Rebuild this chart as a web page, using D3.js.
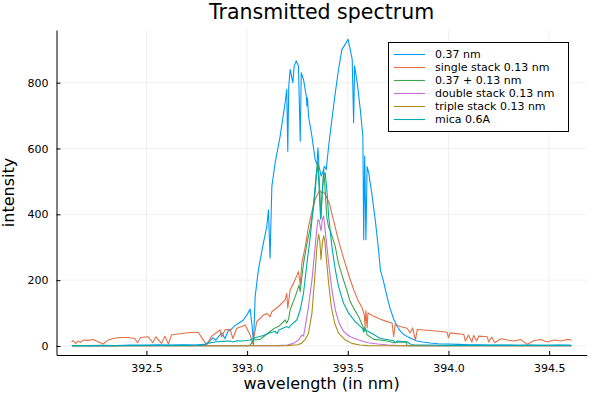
<!DOCTYPE html>
<html><head><meta charset="utf-8">
<script src="https://cdn.jsdelivr.net/npm/d3@7"></script>
<style>body{margin:0;background:#fff} svg{display:block;font-family:"DejaVu Sans",sans-serif}</style>
</head><body><svg id="c" width="596" height="399"></svg>
<script>
const seriesNames = ["0.37 nm", "single stack 0.13 nm", "0.37 + 0.13 nm", "double stack 0.13 nm", "triple stack 0.13 nm", "mica 0.6A"];
const seriesColors = ["#009AFA", "#E36F47", "#3EA44E", "#C371D2", "#AC8E18", "#00A9AD"];
const xTicks = [392.5, 393.0, 393.5, 394.0, 394.5];
const yTicks = [0, 200, 400, 600, 800];

// [wavelength (nm), intensity]
const filter037 = [[392.13,1],[392.2,1],[392.28,2],[392.35,1],[392.42,3],[392.5,3],[392.56,4],[392.62,3],[392.68,4],[392.74,3],[392.79,5],[392.81,12],[392.83,25],[392.845,18],[392.86,30],[392.875,40],[392.89,22],[392.905,45],[392.92,50],[392.94,62],[392.96,70],[392.98,78],[393.0,95],[393.015,112],[393.025,60],[393.032,5],[393.04,150],[393.056,231],[393.081,313],[393.098,363],[393.106,414],[393.114,267],[393.123,485],[393.139,556],[393.164,637],[393.189,739],[393.197,780],[393.202,592],[393.207,790],[393.214,840],[393.227,800],[393.234,851],[393.244,866],[393.255,851],[393.264,622],[393.269,830],[393.28,810],[393.294,759],[393.297,729],[393.3,754],[393.305,698],[393.322,637],[393.338,566],[393.347,551],[393.352,602],[393.357,546],[393.368,516],[393.38,536],[393.383,546],[393.393,536],[393.405,607],[393.421,688],[393.438,769],[393.454,840],[393.471,901],[393.488,917],[393.501,932],[393.512,901],[393.522,871],[393.529,678],[393.534,851],[393.549,790],[393.562,719],[393.575,637],[393.579,323],[393.584,577],[393.59,323],[393.596,545],[393.604,526],[393.62,460],[393.637,380],[393.653,290],[393.662,231],[393.678,195],[393.695,150],[393.711,112],[393.728,82],[393.745,60],[393.761,45],[393.78,34],[393.8,27],[393.82,21],[393.84,16],[393.87,12],[393.91,9],[393.95,7],[394.0,6],[394.05,5],[394.1,4],[394.15,4],[394.2,3],[394.25,3],[394.3,3],[394.35,2],[394.4,3],[394.45,2],[394.5,2],[394.55,3],[394.61,2]];

const single013 = [[392.128,13],[392.136,16],[392.149,8],[392.161,15],[392.172,11],[392.186,18],[392.211,17],[392.236,20],[392.26,13],[392.285,6],[392.31,18],[392.335,23],[392.368,26],[392.41,26],[392.443,23],[392.456,10],[392.471,26],[392.509,28],[392.531,10],[392.547,28],[392.575,8],[392.592,30],[392.609,6],[392.625,34],[392.667,37],[392.716,41],[392.758,41],[392.783,18],[392.799,3],[392.824,30],[392.849,41],[392.866,49],[392.874,28],[392.89,49],[392.915,51],[392.929,23],[392.949,54],[392.974,59],[392.99,64],[393.015,34],[393.028,6],[393.048,74],[393.056,79],[393.081,94],[393.098,99],[393.114,89],[393.123,104],[393.156,120],[393.189,140],[393.197,160],[393.202,115],[393.214,171],[393.231,191],[393.255,226],[393.264,186],[393.272,252],[393.289,302],[393.305,363],[393.322,409],[393.338,445],[393.35,462],[393.36,472],[393.37,465],[393.38,468],[393.39,458],[393.4,445],[393.41,430],[393.42,405],[393.43,380],[393.45,330],[393.47,285],[393.49,245],[393.51,205],[393.53,170],[393.55,140],[393.57,118],[393.582,95],[393.586,60],[393.59,108],[393.596,55],[393.6,100],[393.63,90],[393.662,81],[393.695,74],[393.72,70],[393.728,28],[393.735,65],[393.761,59],[393.794,54],[393.81,40],[393.822,55],[393.836,18],[393.845,50],[393.91,47],[393.96,44],[393.993,42],[394.0,25],[394.008,40],[394.076,35],[394.084,15],[394.1,33],[394.116,12],[394.125,32],[394.14,15],[394.15,30],[394.193,28],[394.2,12],[394.215,27],[394.23,10],[394.26,22],[394.292,18],[394.325,15],[394.358,20],[394.391,5],[394.424,16],[394.458,20],[394.49,12],[394.524,18],[394.557,15],[394.59,20],[394.612,18]];

const combo = [[392.13,0.6],[392.5,0.6],[392.9,0.6],[393.0,1],[393.015,3],[393.032,18],[393.065,20],[393.081,28],[393.114,44],[393.139,55],[393.156,59],[393.189,79],[393.197,70],[393.206,82],[393.214,110],[393.239,150],[393.258,185],[393.264,165],[393.27,200],[393.28,250],[393.297,310],[393.314,360],[393.33,420],[393.34,480],[393.347,546],[393.352,560],[393.358,510],[393.367,390],[393.373,470],[393.381,535],[393.388,470],[393.396,390],[393.405,360],[393.413,350],[393.438,302],[393.454,250],[393.479,200],[393.496,168],[393.512,135],[393.529,115],[393.554,89],[393.575,60],[393.579,45],[393.585,58],[393.596,34],[393.629,20],[393.662,18],[393.695,15],[393.711,13],[393.728,10],[393.76,12],[393.79,11],[393.795,0.6],[394.0,0.6],[394.61,0.6]];

const double013 = [[392.13,0.6],[393.0,0.6],[393.15,1],[393.2,3],[393.23,8],[393.255,18],[393.272,33],[393.28,30],[393.289,59],[393.305,120],[393.322,201],[393.338,302],[393.347,360],[393.352,384],[393.358,380],[393.367,350],[393.374,385],[393.38,394],[393.391,333],[393.405,252],[393.421,171],[393.438,110],[393.454,74],[393.479,44],[393.512,28],[393.554,18],[393.6,10],[393.65,6],[393.7,3],[393.75,1],[393.8,0.6],[394.61,0.6]];

const triple013 = [[392.13,0.6],[393.1,0.6],[393.2,1],[393.25,4],[393.27,8],[393.289,20],[393.305,39],[393.322,100],[393.335,201],[393.347,302],[393.355,340],[393.361,320],[393.367,262],[393.373,310],[393.38,335],[393.386,320],[393.391,282],[393.405,191],[393.418,120],[393.435,69],[393.454,39],[393.488,18],[393.52,8],[393.56,3],[393.6,1],[393.65,0.6],[394.61,0.6]];

const mica06 = [[392.13,1],[392.3,1],[392.5,1.5],[392.7,2],[392.79,3],[392.8,8],[392.849,13],[392.88,14],[392.915,15],[392.93,12],[392.95,16],[392.98,15],[393.015,18],[393.04,25],[393.081,32],[393.114,40],[393.139,44],[393.15,38],[393.156,48],[393.197,59],[393.206,55],[393.22,65],[393.247,79],[393.264,110],[393.28,160],[393.297,250],[393.314,333],[393.33,434],[393.343,520],[393.35,548],[393.356,500],[393.365,385],[393.372,450],[393.38,520],[393.388,526],[393.396,475],[393.405,394],[393.421,302],[393.438,231],[393.454,181],[393.479,130],[393.504,100],[393.537,74],[393.575,52],[393.579,42],[393.585,50],[393.62,38],[393.662,23],[393.7,19],[393.728,16],[393.735,10],[393.745,15],[393.794,13],[393.81,6],[393.827,4],[393.9,3],[394.0,2],[394.2,2],[394.4,2],[394.61,2]];

const seriesData = [filter037, single013, combo, double013, triple013, mica06];

const svg = d3.select("#c");
const m = {l: 56.5, r: 586.7, t: 30, b: 355};
const all = [].concat(...seriesData);
const widen = e => { const r = e[1] - e[0]; return [e[0] - 0.03 * r, e[1] + 0.03 * r]; };
const x = d3.scaleLinear().domain(widen(d3.extent(all, d => d[0]))).range([m.l, m.r]);
const y = d3.scaleLinear().domain(widen(d3.extent(all, d => d[1]))).range([m.b, m.t]);

// grid
const g = svg.append("g");
g.selectAll("line.gx").data(xTicks).join("line")
  .attr("x1", d => x(d)).attr("x2", d => x(d)).attr("y1", m.t).attr("y2", m.b)
  .attr("stroke", "#000").attr("stroke-opacity", 0.1).attr("stroke-width", 0.6);
g.selectAll("line.gy").data(yTicks).join("line")
  .attr("x1", m.l).attr("x2", m.r).attr("y1", d => y(d)).attr("y2", d => y(d))
  .attr("stroke", "#000").attr("stroke-opacity", 0.1).attr("stroke-width", 0.6);

// lines
svg.append("clipPath").attr("id", "clip").append("rect")
  .attr("x", m.l).attr("y", m.t).attr("width", m.r - m.l).attr("height", m.b - m.t);
const line = d3.line().x(d => x(d[0])).y(d => y(d[1]));
const lg = svg.append("g").attr("clip-path", "url(#clip)");
seriesData.forEach((s, i) => {
  lg.append("path").attr("d", line(s)).attr("fill", "none")
    .attr("stroke", seriesColors[i]).attr("stroke-width", 1.1).attr("stroke-linejoin", "round");
});

// axes
const xa = svg.append("g").attr("transform", `translate(0,${m.b})`)
  .call(d3.axisBottom(x).tickValues(xTicks).tickFormat(d3.format(".1f")).tickSizeInner(-4).tickSizeOuter(0).tickPadding(9));
const ya = svg.append("g").attr("transform", `translate(${m.l},0)`)
  .call(d3.axisLeft(y).tickValues(yTicks).tickFormat(d3.format("d")).tickSizeInner(-4).tickSizeOuter(0).tickPadding(8));
[xa, ya].forEach(a => {
  a.selectAll("text").attr("font-size", 11).attr("font-family", "DejaVu Sans").attr("fill", "#000");
  a.selectAll("line").attr("stroke", "#000");
  a.select(".domain").attr("stroke", "#000");
});

// title & labels
svg.append("text").attr("x", (m.l + m.r) / 2).attr("y", 19).attr("text-anchor", "middle")
  .attr("font-size", 20.5).text("Transmitted spectrum");
svg.append("text").attr("x", (m.l + m.r) / 2).attr("y", 389).attr("text-anchor", "middle")
  .attr("font-size", 16).text("wavelength (in nm)");
svg.append("text").attr("transform", `translate(14,${(m.t + m.b) / 2}) rotate(-90)`).attr("text-anchor", "middle")
  .attr("font-size", 16).text("intensity");

// legend
const leg = svg.append("g");
leg.append("rect").attr("x", 388.5).attr("y", 42.5).attr("width", 180).attr("height", 89)
  .attr("fill", "#fff").attr("stroke", "#000").attr("stroke-width", 1);
seriesNames.forEach((n, i) => {
  const yy = 54.5 + i * 13;
  leg.append("line").attr("x1", 394).attr("x2", 425).attr("y1", yy).attr("y2", yy)
    .attr("stroke", seriesColors[i]).attr("stroke-width", 1.1);
  leg.append("text").attr("x", 435).attr("y", yy).attr("dy", "0.35em").attr("font-size", 11).text(n);
});
</script></body></html>
